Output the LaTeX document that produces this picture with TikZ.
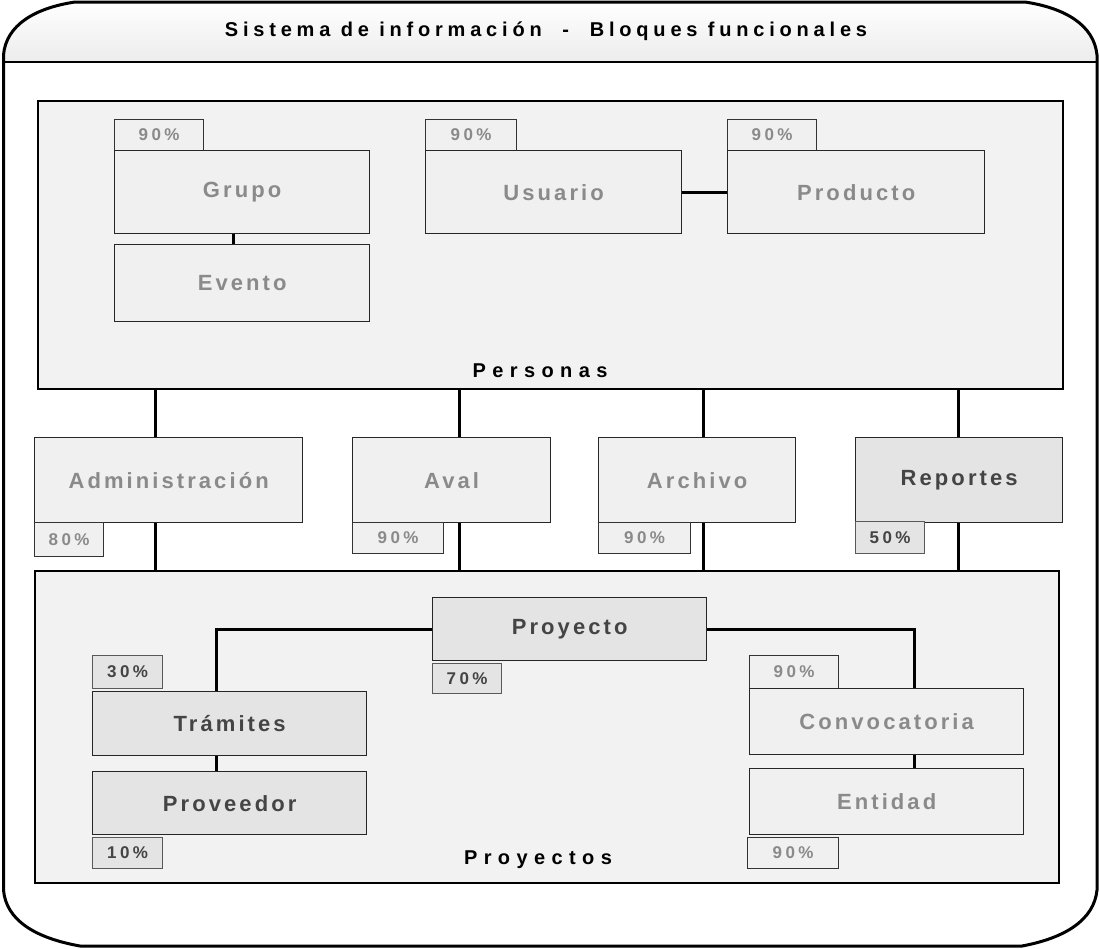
\documentclass[tikz,border=0pt]{standalone}
\usepackage{fontspec}
\setmainfont{Liberation Sans}
\newfontfamily\titlef{Liberation Sans}[LetterSpace=24]
\newfontfamily\boxf{Liberation Sans}[LetterSpace=14]
\newfontfamily\pctf{Liberation Sans}[LetterSpace=20]
\newfontfamily\labf{Liberation Sans}[LetterSpace=32]
\usetikzlibrary{calc}
\definecolor{cont}{HTML}{F2F2F2}
\definecolor{lbox}{HTML}{F0F0F0}
\definecolor{dbox}{HTML}{E4E4E4}
\definecolor{ltext}{HTML}{8A8A8A}
\definecolor{dtext}{HTML}{444444}
\definecolor{band}{HTML}{ECECEC}
\tikzset{
 lightbox/.style={draw=black!85, line width=1.3pt, fill=lbox, text=ltext, font=\boxf\bfseries\fontsize{22}{26}\selectfont, inner sep=0pt, anchor=north west},
 darkbox/.style={lightbox, fill=dbox, text=dtext},
 ltab/.style={draw=black!80, line width=1.2pt, fill=lbox, text=ltext, font=\pctf\bfseries\fontsize{17}{20}\selectfont, inner sep=0pt, anchor=north west},
 dtab/.style={ltab, fill=dbox, text=dtext, draw=black!65},
 container/.style={draw=black, line width=1.8pt, fill=cont, anchor=north west, inner sep=0pt},
 grouplabel/.style={font=\labf\bfseries\fontsize{20}{24}\selectfont, text=black, inner sep=0pt},
 link/.style={line width=3pt, black},
}
\begin{document}
\begin{tikzpicture}[x=1pt,y=-1pt]
\useasboundingbox[fill=white] (0,0) rectangle (1099,948);
% title band
\shade[top color=white, bottom color=band]
  (3.5,62) -- (3.5,55) .. controls (6,25) and (35,8) .. (75,2) -- (1025,2)
  .. controls (1065,8) and (1094,25) .. (1097,55) -- (1097,62) -- cycle;
% outer frame
\draw[line width=3pt]
  (3.5,55) .. controls (6,25) and (35,8) .. (75,2) -- (1025,2)
  .. controls (1065,8) and (1094,25) .. (1097,55) -- (1097,890)
  .. controls (1094,920) and (1065,938) .. (1022,946) -- (80,946)
  .. controls (35,938) and (6,920) .. (3.5,890) -- cycle;
\draw[line width=2.5pt] (3.5,62) -- (1097,62);
\node[font=\titlef\bfseries\fontsize{20}{24}\selectfont] (title) at (546,31) {Sistema de información\ \ -\ \ Bloques funcionales};

% containers
\node[container, minimum width=1025pt, minimum height=288pt] (pers) at (37,100) {};
\node[grouplabel] (perslab) at (540,371) {Personas};
\node[container, minimum width=1024pt, minimum height=312pt] (proys) at (34,570) {};
\node[grouplabel] (proyslab) at (538,860) {Proyectos};

% Personas content
\node[ltab, minimum width=89pt, minimum height=31pt] (grupot) at (114,119) {90\%};
\node[lightbox, minimum width=255pt, minimum height=83pt] (grupo) at (114,150) {Grupo};
\node[lightbox, minimum width=255pt, minimum height=77pt] (evento) at (114,244) {Evento};
\node[ltab, minimum width=91pt, minimum height=31pt] (usuariot) at (425,119) {90\%};
\node[lightbox, minimum width=256pt, minimum height=83pt] (usuario) at (425,150) {Usuario};
\node[ltab, minimum width=89pt, minimum height=31pt] (productot) at (727,119) {90\%};
\node[lightbox, minimum width=257pt, minimum height=83pt] (producto) at (727,150) {Producto};

% middle row
\node[lightbox, minimum width=268pt, minimum height=85pt] (adm) at (34,437) {Administración};
\node[ltab, minimum width=69pt, minimum height=34pt] (admt) at (34,522) {80\%};
\node[lightbox, minimum width=198pt, minimum height=85pt] (aval) at (352,437) {Aval};
\node[ltab, minimum width=91pt, minimum height=31pt] (avalt) at (352,522) {90\%};
\node[lightbox, minimum width=197pt, minimum height=85pt] (archivo) at (598,437) {Archivo};
\node[ltab, minimum width=92pt, minimum height=31pt] (archivot) at (598,522) {90\%};
\node[darkbox, minimum width=207pt, minimum height=85pt] (reportes) at (855,437) {Reportes};
\node[dtab, minimum width=69pt, minimum height=32pt] (reportest) at (855,521) {50\%};

% Proyectos content
\node[darkbox, minimum width=274pt, minimum height=63pt] (proyecto) at (432,597) {Proyecto};
\node[dtab, minimum width=69pt, minimum height=30pt] (proyectot) at (432,663) {70\%};
\node[dtab, minimum width=70pt, minimum height=33pt] (tramitest) at (92,655) {30\%};
\node[darkbox, minimum width=274pt, minimum height=64pt] (tramites) at (92,691) {Trámites};
\node[darkbox, minimum width=274pt, minimum height=63pt] (proveedor) at (92,771) {Proveedor};
\node[dtab, minimum width=70pt, minimum height=31pt] (proveedort) at (92,837) {10\%};
\node[ltab, minimum width=89pt, minimum height=33pt] (convt) at (749,655) {90\%};
\node[lightbox, minimum width=274pt, minimum height=66pt] (conv) at (749,688) {Convocatoria};
\node[lightbox, minimum width=274pt, minimum height=66pt] (entidad) at (749,768) {Entidad};
\node[ltab, minimum width=91pt, minimum height=31pt] (entidadt) at (747,837) {90\%};

% connector columns
\coordinate (xa) at (155,0);
\coordinate (xb) at (459,0);
\coordinate (xc) at (703,0);
\coordinate (xd) at (958,0);
\coordinate (xg) at (233,0);
\coordinate (xt) at (216,0);
\coordinate (xv) at (914,0);

% connectors
\draw[link] (grupo.south -| xg) -- (evento.north -| xg);
\draw[link] (usuario.east) -- (producto.west);
\draw[link] (pers.south -| xa) -- (adm.north -| xa);
\draw[link] (pers.south -| xb) -- (aval.north -| xb);
\draw[link] (pers.south -| xc) -- (archivo.north -| xc);
\draw[link] (pers.south -| xd) -- (reportes.north -| xd);
\draw[link] (adm.south -| xa) -- (proys.north -| xa);
\draw[link] (aval.south -| xb) -- (proys.north -| xb);
\draw[link] (archivo.south -| xc) -- (proys.north -| xc);
\draw[link] (reportes.south -| xd) -- (proys.north -| xd);
\draw[link] (proyecto.west) -| (tramites.north -| xt);
\draw[link] (proyecto.east) -| (conv.north -| xv);
\draw[link] (tramites.south -| xt) -- (proveedor.north -| xt);
\draw[link] (conv.south -| xv) -- (entidad.north -| xv);
\end{tikzpicture}
\end{document}
